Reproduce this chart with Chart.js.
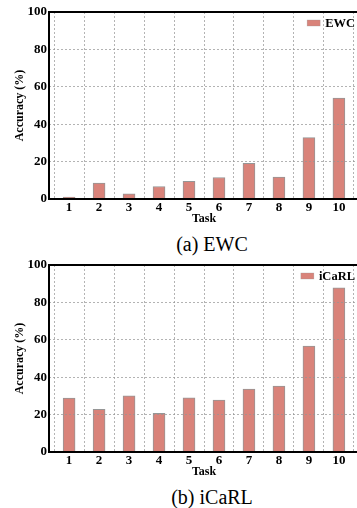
<!DOCTYPE html>
<html>
<head>
<meta charset="utf-8">
<script src="https://cdn.jsdelivr.net/npm/chart.js@4.4.1/dist/chart.umd.min.js"></script>
<style>
  body { margin: 0; width: 357px; height: 508px; overflow: hidden; position: relative; background: #fff; }
  .panel { position: absolute; left: 0; width: 362px; height: 226px; }
  .caption { position: absolute; left: 112px; width: 200px; text-align: center;
             font-family: 'Liberation Serif', serif; font-size: 20px; line-height: 20px; color: #000; }
</style>
</head>
<body>
<div class="panel" style="top:0"><canvas id="ewcChart"></canvas></div>
<div class="caption" style="top:234px">(a) EWC</div>
<div class="panel" style="top:253px"><canvas id="icarlChart"></canvas></div>
<div class="caption" style="top:487px">(b) iCaRL</div>
<script>
// tâches et précisions
const tasks = [1, 2, 3, 4, 5, 6, 7, 8, 9, 10];
const ewcAccuracy = [1.0, 8.5, 2.8, 6.7, 9.4, 11.5, 19.1, 11.7, 32.8, 54.0];
const icarlAccuracy = [28.8, 22.8, 30.0, 20.7, 29.0, 27.7, 33.7, 35.2, 56.7, 87.8];
const yTicks = [0, 20, 40, 60, 80, 100];

const serif = "'Liberation Serif', 'Times New Roman', serif";
const barFill = 'rgb(217, 131, 122)';
const barEdge = 'rgb(150, 150, 150)';

// cadre noir autour de la zone de tracé
const framePlugin = {
    id: 'frame',
    afterDraw(chart) {
        const { ctx, chartArea: { left, top, right, bottom } } = chart;
        ctx.save();
        ctx.strokeStyle = '#000';
        ctx.lineWidth = 2;
        ctx.strokeRect(Math.round(left), Math.round(top), Math.round(right - left), Math.round(bottom - top));
        ctx.restore();
    }
};

// légende dans le coin haut droit
const cornerLegend = {
    id: 'cornerLegend',
    afterDraw(chart) {
        const { ctx, chartArea } = chart;
        const ds = chart.data.datasets[0];
        ctx.save();
        ctx.font = 'bold 12.5px ' + serif;
        const w = ctx.measureText(ds.label).width;
        const tx = chartArea.right - 4 - w;
        const cy = chartArea.top + 11;
        ctx.fillStyle = ds.backgroundColor;
        ctx.fillRect(tx - 18, cy - 3, 13, 6);
        ctx.strokeStyle = 'rgba(150,150,150,0.6)';
        ctx.lineWidth = 0.5;
        ctx.strokeRect(tx - 18, cy - 3, 13, 6);
        ctx.fillStyle = '#000';
        ctx.textBaseline = 'middle';
        ctx.fillText(ds.label, tx, cy + 1);
        ctx.restore();
    }
};

const gridOpts = { color: 'rgba(150,150,150,0.9)', lineWidth: 0.8, z: 1, drawTicks: false };

function makeChart(id, label, values) {
    const ctx = document.getElementById(id).getContext('2d');
    return new Chart(ctx, {
        type: 'bar',
        data: {
            datasets: [{
                label: label,
                data: tasks.map((t, i) => ({ x: t, y: values[i] })),
                backgroundColor: barFill,
                borderColor: barEdge,
                borderWidth: 1,
                barThickness: 12
            }]
        },
        options: {
            responsive: true,
            maintainAspectRatio: false,
            animation: false,
            layout: { padding: { top: 12, right: 3, left: 0, bottom: 0 } },
            plugins: {
                legend: { display: false },
                tooltip: { enabled: false }
            },
            scales: {
                x: {
                    type: 'linear',
                    offset: false,
                    min: 0.33,
                    max: 10.67,
                    afterBuildTicks: (scale) => { scale.ticks = tasks.map(v => ({ value: v })); },
                    afterFit: (scale) => { scale.height = 27; },
                    grid: gridOpts,
                    border: { display: false, dash: [2, 2] },
                    ticks: { color: '#000', font: { family: serif, size: 13, weight: 'bold' }, padding: 1, maxRotation: 0 },
                    title: { display: true, text: 'Task', color: '#000', font: { family: serif, size: 12, weight: 'bold' }, padding: 0 }
                },
                y: {
                    min: 0,
                    max: 100,
                    afterBuildTicks: (scale) => { scale.ticks = yTicks.map(v => ({ value: v })); },
                    afterFit: (scale) => { scale.width = 49; },
                    grid: gridOpts,
                    border: { display: false, dash: [2, 2] },
                    ticks: { color: '#000', font: { family: serif, size: 13, weight: 'bold' }, padding: 2 },
                    title: { display: true, text: 'Accuracy (%)', color: '#000', font: { family: serif, size: 12, weight: 'bold' }, padding: { top: 13, bottom: 0 } }
                }
            }
        },
        plugins: [framePlugin, cornerLegend]
    });
}

makeChart('ewcChart', 'EWC', ewcAccuracy);
makeChart('icarlChart', 'iCaRL', icarlAccuracy);
</script>
</body>
</html>
